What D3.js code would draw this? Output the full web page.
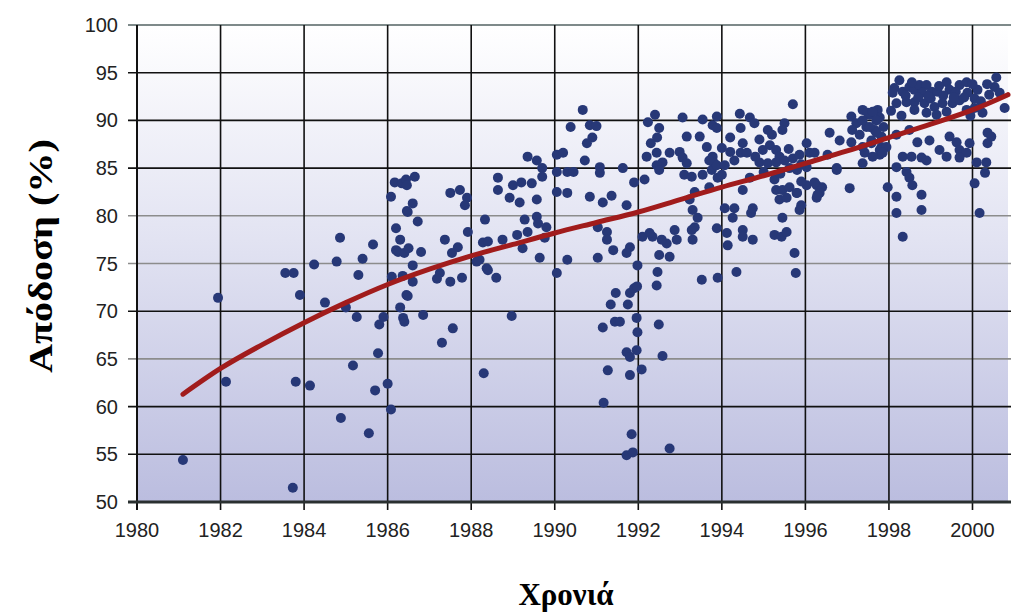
<!DOCTYPE html>
<html>
<head>
<meta charset="utf-8">
<script src="https://cdn.jsdelivr.net/npm/d3@7"></script>
<style>
  html, body { margin: 0; padding: 0; background: #ffffff; }
  svg { display: block; }
</style>
</head>
<body>
<svg id="chart" width="1011" height="614"></svg>
<script>
// Axis ticks
const xTicks = [1980, 1982, 1984, 1986, 1988, 1990, 1992, 1994, 1996, 1998, 2000];
const yTicks = [50, 55, 60, 65, 70, 75, 80, 85, 90, 95, 100];

// Observed efficiency per installation date [year, %]
const early = [
  [1981.1,54.4],[1981.94,71.4],[1982.13,62.6],[1983.55,74.0],[1983.75,74.0],[1983.9,71.7],[1983.8,62.6],
  [1983.73,51.5],[1984.14,62.2],[1984.24,74.9],[1984.5,70.9],[1984.78,75.2],[1984.86,77.7],[1984.88,58.8],
  [1985.0,70.4],[1985.4,75.5],[1985.65,77.0],[1985.3,73.8],[1985.26,69.4],[1985.17,64.3],[1985.55,57.2],
  [1985.7,61.7],[1985.77,65.6],[1985.8,68.6],[1985.9,69.4],[1986.0,62.4],[1986.08,59.7],[1986.1,73.6],
  [1986.3,70.4],[1986.37,69.3],[1986.45,71.7],[1986.08,82.0],[1986.17,83.5],[1986.34,83.4],[1986.44,83.8],
  [1986.46,80.5],[1986.2,78.7],[1986.3,77.5],[1986.25,76.2],[1986.4,76.1]
];
const mid80s = [
  [1986.65,84.1],[1986.46,83.2],[1986.6,81.3],[1986.48,80.4],[1986.72,79.4],[1986.2,76.4],[1986.5,76.6],
  [1986.8,76.2],[1986.6,74.8],[1986.36,73.7],[1986.6,73.1],[1986.48,71.6],[1986.4,68.9],[1986.85,69.6],
  [1987.56,68.2],[1987.3,66.7],[1987.5,82.4],[1987.73,82.7],[1987.9,81.9],[1987.85,81.1],[1987.37,77.5],
  [1987.68,76.7],[1987.54,76.1],[1987.92,78.3],[1987.25,74.0],[1987.5,73.1],[1987.78,73.5],[1987.18,73.4],
  [1988.33,79.6],[1988.28,77.2],[1988.4,77.3],[1988.2,75.4],[1988.37,74.5],[1988.6,73.5],[1988.75,77.5],
  [1988.97,69.5],[1988.64,84.0],[1988.64,82.7],[1988.92,81.9],[1989.16,81.4],[1989.0,83.2],[1989.2,83.5],
  [1989.45,83.4],[1989.57,81.7],[1989.35,86.2],[1989.57,85.8],[1989.7,85.0],[1989.7,84.1],[1989.28,79.6],
  [1989.57,79.9],[1989.6,79.2],[1989.8,78.8],[1989.1,78.0],[1989.35,78.3],[1989.76,77.7],[1989.23,76.6],
  [1989.64,75.6],[1988.3,63.5],[1988.13,75.2],[1988.4,74.3]
];
const early90s = [
  [1990.67,91.1],[1990.38,89.3],[1990.84,89.5],[1991.0,89.4],[1990.9,88.2],[1990.77,87.6],[1990.05,86.4],
  [1990.2,86.6],[1990.05,84.6],[1990.3,84.6],[1990.45,84.6],[1990.72,85.8],[1991.08,85.1],[1991.08,84.5],
  [1991.63,85.0],[1991.9,83.5],[1992.15,83.8],[1990.05,82.5],[1990.3,82.4],[1990.84,82.0],[1991.15,81.4],
  [1991.36,82.1],[1991.72,81.1],[1991.03,78.8],[1991.25,78.3],[1991.25,77.5],[1991.4,76.4],[1991.8,76.7],
  [1991.03,75.6],[1990.3,75.4],[1991.98,74.8],[1990.05,74.0],[1991.72,76.1],
  [1991.46,71.9],[1991.8,71.9],[1991.9,72.4],[1991.97,72.6],[1992.44,72.7],[1992.46,74.1],[1993.52,73.3],
  [1993.9,73.5],[1991.34,70.7],[1991.75,70.7],[1991.15,68.3],[1991.44,68.9],[1991.56,68.9],[1991.96,69.3],
  [1991.98,67.8],[1992.49,68.6],[1991.72,65.7],[1991.8,65.2],[1991.96,65.9],[1992.58,65.3],[1991.27,63.8],
  [1991.8,63.3],[1992.08,63.9],[1991.17,60.4],[1991.84,57.1],[1991.72,54.9],[1991.87,55.2],[1992.75,55.6]
];
const midLate90s = [
  [1992.23,89.8],[1992.4,90.6],[1992.5,89.2],[1992.45,88.2],[1992.3,87.6],[1992.2,86.2],[1992.44,86.6],
  [1992.58,85.6],[1992.75,86.6],[1992.99,86.7],[1993.06,90.3],[1993.16,88.3],[1993.47,88.3],[1993.54,90.1],
  [1993.78,89.5],[1993.64,87.2],[1992.44,85.3],[1992.5,84.8],[1993.1,84.3],[1993.28,84.1],[1993.54,84.3],
  [1993.76,84.8],[1993.35,82.5],[1993.23,81.7],[1993.3,80.6],[1993.42,79.8],[1993.28,78.5],[1993.3,77.5],
  [1992.87,78.5],[1992.92,77.5],[1992.68,77.1],[1992.56,77.5],[1992.34,77.8],[1992.5,75.9],[1992.75,75.7],
  [1993.88,78.7],[1993.06,86.1],[1993.16,85.5],[1993.78,86.2],[1993.8,85.6],[1992.1,77.8],[1992.27,78.2],
  [1993.35,78.8],
  [1995.7,91.7],[1993.88,90.4],[1994.43,90.7],[1994.67,90.3],[1994.78,89.7],[1993.88,89.2],[1994.45,89.2],
  [1994.5,87.6],[1995.1,89.0],[1995.2,88.5],[1995.5,89.7],[1995.45,89.0],[1994.0,87.1],[1994.2,86.7],
  [1994.45,86.6],[1994.6,86.6],[1993.7,85.8],[1993.88,85.3],[1994.07,85.3],[1994.98,86.9],[1995.15,87.4],
  [1995.3,86.9],[1995.38,86.2],[1994.9,85.6],[1995.1,85.5],[1995.3,85.6],[1995.5,85.8],[1995.7,86.0],
  [1995.86,86.4],[1996.03,87.6],[1996.1,86.6],[1995.62,85.0],[1995.8,84.8],[1996.03,85.1],[1996.53,86.4],
  [1996.58,88.7],[1996.82,87.9],[1996.75,85.0],[1997.06,82.9],[1994.67,84.0],[1994.5,82.7],[1995.26,83.8],
  [1995.3,82.7],[1995.45,82.7],[1995.62,83.0],[1995.8,82.4],[1996.03,83.2],[1996.27,83.2],[1996.4,83.0],
  [1996.34,82.4],[1996.27,81.9],[1995.38,81.7],[1995.55,81.9],[1995.79,82.4],[1995.9,81.1],[1995.86,80.6],
  [1993.7,83.0],[1993.9,84.0],[1994.0,84.3],[1994.07,80.8],[1994.3,80.8],[1994.26,79.8],[1994.7,80.3],
  [1994.74,80.8],[1994.5,78.5],[1994.12,78.2],[1994.14,76.9],[1994.5,77.8],[1994.74,77.5],[1995.26,78.0],
  [1995.43,77.8],[1995.55,78.3],[1995.45,79.8],[1995.74,76.1],[1994.35,74.1],[1995.77,74.0],
  [1996.22,86.6],[1995.9,83.6],[1996.22,83.5],[1996.29,82.2],[1996.75,84.8],
  [1994.3,85.8],[1994.8,86.2],[1995.0,84.6],[1995.6,87.0],[1994.2,88.2],[1995.9,85.4],[1994.9,88.0],
  [1995.4,84.4]
];
const late90s = [
  [1998.25,94.2],[1998.13,93.4],[1998.09,92.9],[1998.33,93.0],[1998.49,93.5],[1998.61,93.2],[1998.73,93.7],
  [1998.9,93.7],[1998.8,92.9],[1999.02,93.0],[1999.16,93.0],[1999.38,94.0],[1999.45,93.2],[1999.69,93.7],
  [1999.86,94.0],[1999.88,92.9],[2000.12,93.2],[2000.05,92.3],[2000.57,94.5],[2000.53,93.5],[2000.4,92.7],
  [2000.65,92.9],
  [1998.18,91.8],[1998.42,91.9],[1998.61,91.9],[1998.85,91.8],[1999.09,91.4],[1999.28,91.8],[1999.52,91.8],
  [1999.69,92.1],[1999.86,91.1],[2000.05,91.3],[2000.24,90.8],[1998.61,91.1],[1998.9,90.8],[1999.14,90.6],
  [1999.38,90.9],[2000.77,91.3],
  [1998.4,92.6],[1998.7,92.4],[1999.0,92.3],[1999.3,92.6],[1999.6,93.0],[1999.8,92.4],[2000.2,92.0],
  [2000.35,93.8],[1998.05,91.0],[1998.3,90.5],[1998.95,92.5],[1999.55,92.4],[1999.2,93.6],[1998.55,94.0],
  [2000.0,93.8],[1999.95,90.5],
  [1997.37,91.1],[1997.54,90.6],[1997.73,91.1],[1997.78,90.3],[1997.46,89.3],[1997.66,89.0],[1997.87,89.3],
  [1997.82,88.3],[1997.58,87.6],[1997.82,87.2],[1997.42,86.6],[1997.78,86.4],[1997.37,85.5],
  [1998.18,88.5],[1998.49,89.0],[1998.68,87.7],[1998.97,87.9],[1998.33,86.2],[1998.54,86.2],[1998.78,86.1],
  [1998.9,85.8],[1998.18,85.1],[1998.42,84.6],[1998.49,84.0],[1998.56,83.2],[1997.97,83.0],[1998.18,82.0],
  [1998.18,80.3],[1998.33,77.8],[1998.78,82.2],[1998.78,80.6],
  [1999.21,86.9],[1999.45,88.3],[1999.62,87.7],[1999.69,86.9],[1999.86,86.6],[1999.93,87.6],[1999.38,86.2],
  [1999.69,86.1],[2000.36,88.7],[2000.45,88.3],[2000.36,87.6],[2000.1,85.6],[2000.33,85.6],[2000.3,84.5],
  [2000.05,83.4],[2000.17,80.3],
  [1997.1,90.4],[1997.22,89.7],[1997.37,90.0],[1997.49,90.8],[1997.61,90.9],[1997.7,90.0],[1997.12,89.0],
  [1997.3,88.5],[1997.54,89.3],[1997.7,88.7],[1997.1,87.7],[1997.37,87.2],[1997.58,87.9],[1997.78,86.9],
  [1997.94,87.2],[1997.61,86.2],[1997.85,86.6]
];
const points = [].concat(early, mid80s, early90s, midLate90s, late90s);

// Fitted trend [year, %]
const trend = [
  [1981.1,61.3],[1982,64.0],[1983,66.5],[1984,68.8],[1985,70.9],[1986,72.8],[1987,74.4],[1988,75.8],
  [1989,77.0],[1990,78.2],[1991,79.3],[1992,80.4],[1993,81.7],[1994,83.0],[1995,84.2],[1996,85.5],
  [1997,86.8],[1998,88.2],[1999,89.6],[2000,91.1],[2000.85,92.7]
];

const svg = d3.select("#chart");
const plot = { left: 137, right: 1008, top: 25, bottom: 502 };

const x = d3.scaleLinear().domain([1980, 2000.85]).range([plot.left, plot.right]);
const y = d3.scaleLinear().domain([50, 100]).range([plot.bottom, plot.top]);

// Background gradient of the plotting area
const defs = svg.append("defs");
const grad = defs.append("linearGradient")
  .attr("id", "bg").attr("x1", 0).attr("y1", 0).attr("x2", 0).attr("y2", 1);
grad.append("stop").attr("offset", "0%").attr("stop-color", "#ffffff");
grad.append("stop").attr("offset", "45%").attr("stop-color", "#e2e3f2");
grad.append("stop").attr("offset", "100%").attr("stop-color", "#bbbddf");

svg.append("rect")
  .attr("x", plot.left).attr("y", plot.top)
  .attr("width", plot.right - plot.left).attr("height", plot.bottom - plot.top)
  .attr("fill", "url(#bg)");

// Horizontal grid (some rules rendered lighter)
const lightRows = new Set([65, 75, 80]);
svg.append("g").selectAll("line")
  .data(yTicks.filter(d => d !== 50))
  .join("line")
  .attr("x1", plot.left - 9).attr("x2", plot.right + 3)
  .attr("y1", d => y(d)).attr("y2", d => y(d))
  .attr("stroke", d => d === 100 ? "#7e8a8a" : (lightRows.has(d) ? "#8c8c8c" : "#111"))
  .attr("stroke-width", d => d === 100 ? 2 : 1.6);

// Vertical grid
svg.append("g").selectAll("line")
  .data(xTicks)
  .join("line")
  .attr("x1", d => x(d)).attr("x2", d => x(d))
  .attr("y1", plot.top).attr("y2", plot.bottom + 8)
  .attr("stroke", "#111")
  .attr("stroke-width", d => d === 1980 ? 2 : 1.6);

// Bottom axis rule
svg.append("line")
  .attr("x1", plot.left - 9).attr("x2", plot.right + 3)
  .attr("y1", y(50)).attr("y2", y(50))
  .attr("stroke", "#2a3030").attr("stroke-width", 3);

// Tick labels
const labelFont = "'Liberation Sans', Arial, sans-serif";
svg.append("g").selectAll("text")
  .data(xTicks)
  .join("text")
  .attr("x", d => x(d)).attr("y", 537)
  .attr("text-anchor", "middle")
  .attr("font-family", labelFont).attr("font-size", 20)
  .attr("fill", "#222")
  .text(d => d);

svg.append("g").selectAll("text")
  .data(yTicks)
  .join("text")
  .attr("x", 118).attr("y", d => y(d) + 7)
  .attr("text-anchor", "end")
  .attr("font-family", labelFont).attr("font-size", 20)
  .attr("fill", "#222")
  .text(d => d);

// Scatter
svg.append("g").selectAll("circle")
  .data(points)
  .join("circle")
  .attr("cx", d => x(d[0])).attr("cy", d => y(d[1]))
  .attr("r", 5)
  .attr("fill", "#273877");

// Trend line
svg.append("path")
  .datum(trend)
  .attr("d", d3.line().x(d => x(d[0])).y(d => y(d[1])).curve(d3.curveMonotoneX))
  .attr("fill", "none")
  .attr("stroke", "#a11c1c")
  .attr("stroke-width", 5)
  .attr("stroke-linecap", "round");

// Axis titles
const titleFont = "'Liberation Serif', 'Times New Roman', serif";
svg.append("text")
  .attr("transform", "translate(52,256) rotate(-90)")
  .attr("text-anchor", "middle")
  .attr("font-family", titleFont).attr("font-weight", "bold").attr("font-size", 33)
  .attr("textLength", 234).attr("lengthAdjust", "spacingAndGlyphs")
  .attr("fill", "#000")
  .text("Απόδοση (%)");

svg.append("text")
  .attr("x", 566).attr("y", 605)
  .attr("text-anchor", "middle")
  .attr("font-family", titleFont).attr("font-weight", "bold").attr("font-size", 31)
  .attr("fill", "#000")
  .text("Χρονιά");
</script>
</body>
</html>
